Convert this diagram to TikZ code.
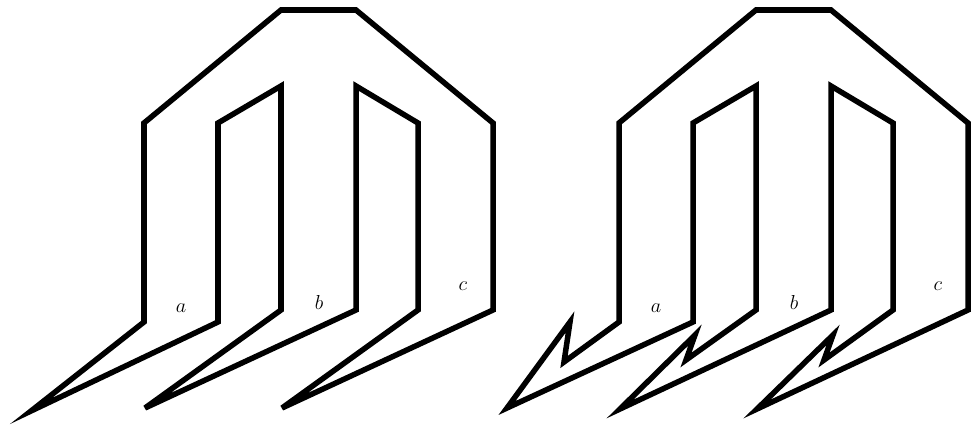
\documentclass[tikz,border=0pt]{standalone}
\usepackage{tikz}
\usepackage{amsmath}
\tikzset{
    wire/.style={black, line width=4.7pt},
    lab/.style={font=\LARGE}
}
\begin{document}
\begin{tikzpicture}[x=0.03cm, y=-0.03cm]
    \useasboundingbox (0,0) rectangle (974,425);

    % Left loop
    \draw[wire] (31,411) -- (144,322) -- (144,123) -- (281,10) -- (356,10) -- (493,123) -- (493,310)
        -- (282,408) -- (418,310) -- (418,123) -- (356,86) -- (356,310)
        -- (145,408) -- (281,310) -- (281,86) -- (218,123) -- (218,322) -- cycle;
    \node[lab] (aleft) at (181,308) {$a$};
    \node[lab] (bleft) at (319,302) {$b$};
    \node[lab] (cleft) at (463,286) {$c$};

    % Right loop
    \draw[wire] (507,408) -- (570,322) -- (564,362) -- (619,322) -- (619,123) -- (756,10) -- (831,10) -- (968,123) -- (968,310)
        -- (757,409) -- (833,335) -- (824,360) -- (893,310) -- (893,123) -- (831,86) -- (831,310)
        -- (620,409) -- (695,335) -- (686,360) -- (756,310) -- (756,86) -- (693,123) -- (693,322) -- cycle;
    \node[lab] (aright) at (656,308) {$a$};
    \node[lab] (bright) at (794,302) {$b$};
    \node[lab] (cright) at (938,286) {$c$};
\end{tikzpicture}
\end{document}
